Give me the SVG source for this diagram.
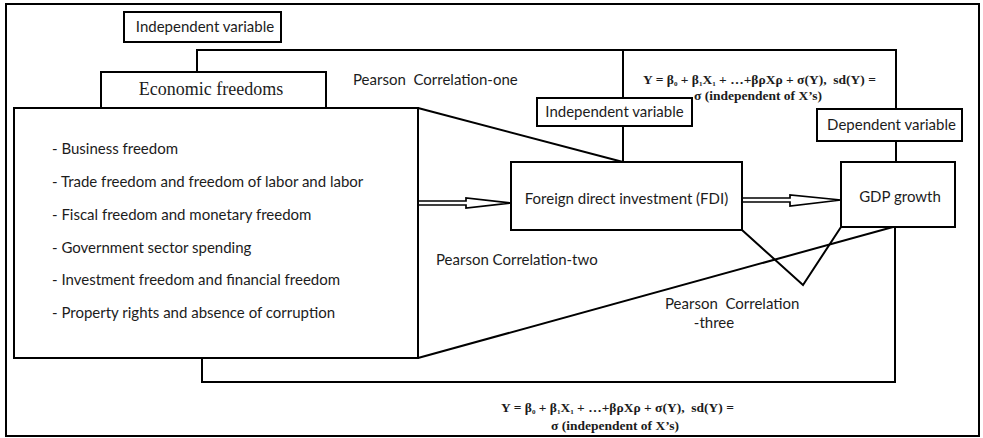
<svg xmlns="http://www.w3.org/2000/svg" width="983" height="438" viewBox="0 0 983 438">
<style>
.box{fill:#fff;stroke:#000;stroke-width:2}
.ln{fill:none;stroke:#000;stroke-width:2}
.arr{fill:#fff;stroke:#000;stroke-width:1.7;stroke-linejoin:miter}
.t{font-family:Lato,"Open Sans","Liberation Sans",sans-serif;font-size:15px;fill:#1c1c1c}
.c{text-anchor:middle}
.serif{font-family:"Liberation Serif","Times New Roman",serif;font-size:18px;fill:#1c1c1c}
.f{font-family:"Liberation Serif","Times New Roman",serif;font-size:13.5px;font-weight:bold;fill:#1c1c1c;text-anchor:middle}
.sub{font-size:7px}
</style>
<rect x="0" y="0" width="983" height="438" fill="#fff"/>
<rect x="6" y="4" width="973" height="432" class="box"/>

<g id="connectors">
<polyline class="ln" points="197,72 197,50 896,50 896,109"/>
<line class="ln" x1="623" y1="50" x2="623" y2="98"/>
<line class="ln" x1="623" y1="126" x2="623" y2="162"/>
<line class="ln" x1="896" y1="141" x2="896" y2="162"/>
<polyline class="ln" points="202,358 202,382 895,382 895,227"/>
<line class="ln" x1="418" y1="108" x2="623" y2="162"/>
<line class="ln" x1="418" y1="358" x2="893" y2="227"/>
<polyline class="ln" points="742,230 803,285 841,227"/>
<polygon class="arr" points="418,201 466,201 466,198 511,203 466,208 466,205 418,205"/>
<polygon class="arr" points="742,198 790,198 790,195 841,200 790,206 790,202 742,202"/>
<text class="t" x="353" y="85">Pearson&#160; Correlation-one</text>
<text class="t" x="436" y="265">Pearson Correlation-two</text>
<text class="t" x="665" y="309">Pearson&#160; Correlation</text>
<text class="t c" x="714" y="328">-three</text>
</g>

<g id="iv1">
<rect class="box" x="124" y="12" width="157" height="30"/>
<text class="t c" x="205" y="32">Independent variable</text>
</g>
<g id="econ">
<rect class="box" x="101" y="72" width="225" height="36"/>
<text class="serif c" x="211" y="95">Economic freedoms</text>
</g>
<g id="list">
<rect class="box" x="14" y="108" width="404" height="250"/>
<text class="t" x="52" y="154">- Business freedom</text>
<text class="t" x="52" y="187">- Trade freedom and freedom of labor and labor</text>
<text class="t" x="52" y="220">- Fiscal freedom and monetary freedom</text>
<text class="t" x="52" y="253">- Government sector spending</text>
<text class="t" x="52" y="285">- Investment freedom and financial freedom</text>
<text class="t" x="52" y="318">- Property rights and absence of corruption</text>
</g>
<g id="iv2">
<rect class="box" x="537" y="98" width="155" height="28"/>
<text class="t c" x="614.5" y="117">Independent variable</text>
</g>
<g id="fdi">
<rect class="box" x="511" y="162" width="231" height="68"/>
<text class="t c" x="626.5" y="204">Foreign direct investment (FDI)</text>
</g>
<g id="dv">
<rect class="box" x="817" y="109" width="145" height="32"/>
<text class="t c" x="891.5" y="130">Dependent variable</text>
</g>
<g id="gdp">
<rect class="box" x="841" y="162" width="114" height="65"/>
<text class="t c" x="900" y="202">GDP growth</text>
</g>
<g id="formula-top">
<text class="f" x="759.5" y="84">Y = β<tspan class="sub" dy="2">0</tspan><tspan dy="-2"> + β</tspan><tspan class="sub" dy="2">1</tspan><tspan dy="-2">X</tspan><tspan class="sub" dy="2">1</tspan><tspan dy="-2"> + …+βρXρ + σ(Y),&#160; sd(Y) =</tspan></text>
<text class="f" x="758" y="100">σ (independent of X’s)</text>
</g>
<g id="formula-bottom">
<text class="f" x="617.5" y="412">Y = β<tspan class="sub" dy="2">0</tspan><tspan dy="-2"> + β</tspan><tspan class="sub" dy="2">1</tspan><tspan dy="-2">X</tspan><tspan class="sub" dy="2">1</tspan><tspan dy="-2"> + …+βρXρ + σ(Y),&#160; sd(Y) =</tspan></text>
<text class="f" x="615" y="430">σ (independent of X’s)</text>
</g>
</svg>
